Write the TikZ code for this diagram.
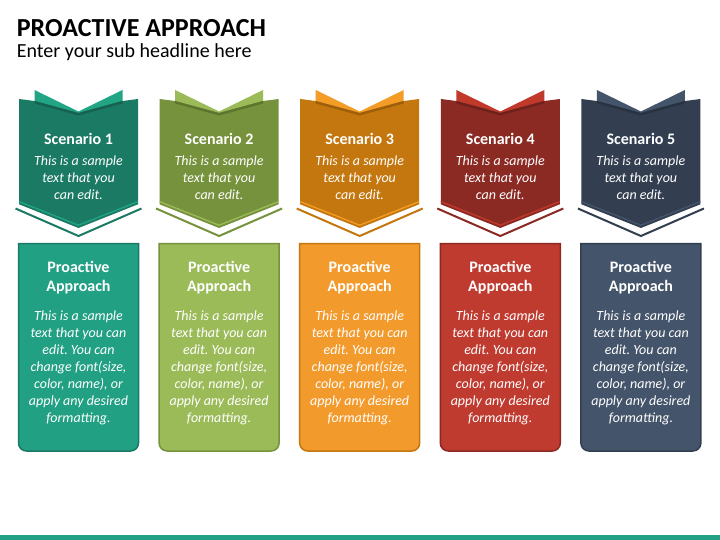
\documentclass[tikz,border=0pt]{standalone}
\usepackage{fontspec}
\setmainfont{Carlito}
\frenchspacing
\definecolor{c1d}{HTML}{1B7A64}\definecolor{c1l}{HTML}{22A585}\definecolor{c1b}{HTML}{21A084}
\definecolor{c2d}{HTML}{76923C}\definecolor{c2l}{HTML}{9BBB59}\definecolor{c2b}{HTML}{9BBB59}
\definecolor{c3d}{HTML}{C4770E}\definecolor{c3l}{HTML}{F39C26}\definecolor{c3b}{HTML}{F39A2C}
\definecolor{c4d}{HTML}{8B2A23}\definecolor{c4l}{HTML}{C0392B}\definecolor{c4b}{HTML}{BF3A2F}
\definecolor{c5d}{HTML}{333F50}\definecolor{c5l}{HTML}{44546A}\definecolor{c5b}{HTML}{44546A}
\definecolor{barc}{HTML}{21A084}
\tikzset{
  wtxt/.style={text=white, inner sep=0pt, anchor=base, align=center},
  headtxt/.style={wtxt, font=\fontsize{16}{18.7}\selectfont\bfseries},
  bodytxt/.style={wtxt, font=\fontsize{14}{16.9}\selectfont\itshape},
}
\begin{document}
\begin{tikzpicture}[x=1pt,y=-1pt]
\useasboundingbox (0,0) rectangle (720,540);
\fill[white] (0,0) rectangle (720,540);
\node[anchor=base west, inner sep=0pt, font=\fontsize{26}{30}\selectfont\bfseries] (title) at (16.7,36.5) {PROACTIVE APPROACH};
\node[anchor=base west, inner sep=0pt, font=\fontsize{20}{24}\selectfont] (sub) at (16.7,57.5) {Enter your sub headline here};
\fill[barc] (0,535) rectangle (720,540);
\foreach \i/\dk/\lt/\bx in {0/c1d/c1l/c1b,1/c2d/c2l/c2b,2/c3d/c3l/c3b,3/c4d/c4l/c4b,4/c5d/c5l/c5b}{
  \pgfmathsetmacro\cx{78.5+140.6*\i}
  \pgfmathtruncatemacro\n{\i+1}
  % back flap
  \fill[\lt] ({\cx-44},90) -- (\cx,111.5) -- ({\cx+44},90) -- ({\cx+44},102) -- (\cx,114) -- ({\cx-44},102) -- cycle;
  % banner body
  \fill[\dk] ({\cx-59.5},99) -- ({\cx-44},101) -- (\cx,113) -- ({\cx+44},101) -- ({\cx+59.5},99)
     -- ({\cx+59.5},204.3) -- (\cx,228) -- ({\cx-59.5},204.3) -- cycle;
  % shadow under flap
  \fill[\dk!80!black] ({\cx-44},101) -- (\cx,113) -- ({\cx+44},101) -- ({\cx+44},103.5) -- (\cx,115.5) -- ({\cx-44},103.5) -- cycle;
  % light stripe
  \draw[\lt, line width=1.3pt] ({\cx-59.5},201.6) -- (\cx,225.2) -- ({\cx+59.5},201.6);
  % chevron line
  \draw[\dk, line width=2pt, line join=miter] ({\cx-63},208.5) -- (\cx,236) -- ({\cx+63},208.5);
  % bottom box
  \draw[fill=\bx, draw=\dk, line width=1.5pt] ({\cx-60},243.5) -- ({\cx-60},443) arc[start angle=180, end angle=90, radius=8]
     -- ({\cx+52},451) arc[start angle=90, end angle=0, radius=8] -- ({\cx+60},243.5) -- cycle;
  \node[headtxt] (sc\i) at (\cx,144.5) {Scenario \n};
  \node[bodytxt, font=\fontsize{14}{17}\selectfont\itshape] (st\i) at (\cx,199.5) {This is a sample\\text that you\\can edit.};
  \node[headtxt] (pa\i) at (\cx,291) {Proactive\\Approach};
  \node[bodytxt] (pt\i) at (\cx,422.2) {This is a sample\\text that you can\\edit. You can\\change font(size,\\color, name), or\\apply any desired\\formatting.};
}
\end{tikzpicture}
\end{document}
